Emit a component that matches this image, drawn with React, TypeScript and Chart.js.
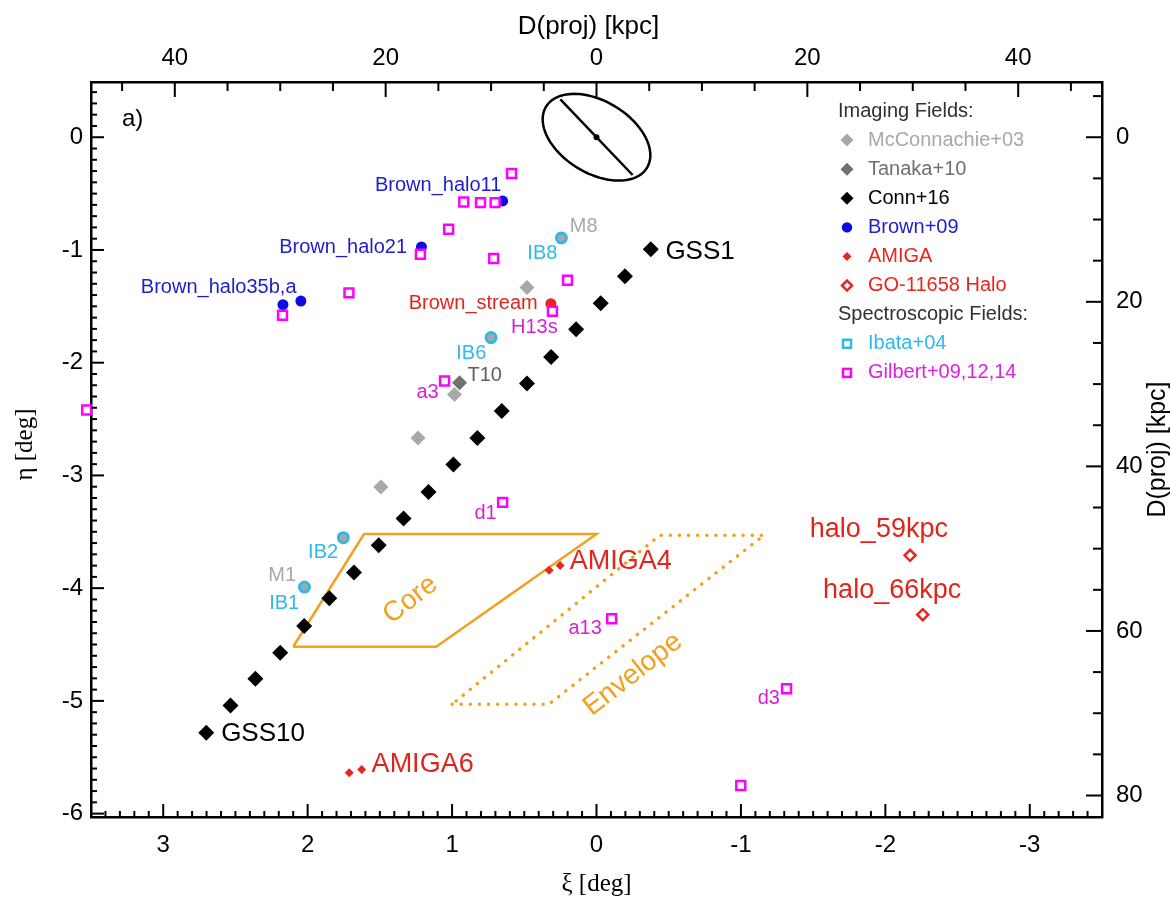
import React, { useEffect, useRef } from 'react';
import { Chart, registerables } from 'chart.js';

Chart.register(...registerables);

// ---------- scale constants ----------
const KPC_PER_DEG = 13.7;
const XI_MIN = -3.5;
const XI_MAX = 3.5;
const ETA_MIN = -6.03;
const ETA_MAX = 0.49;

// ---------- tick labels ----------
const xiTicks = [3, 2, 1, 0, -1, -2, -3];
const etaTicks = [0, -1, -2, -3, -4, -5, -6];
const kpcTopTicks = [-40, -20, 0, 20, 40];
const kpcRightTicks = [0, 20, 40, 60, 80];

// ---------- Imaging fields ----------
const mcconnachieXi = [0.481, 0.983, 1.236, 1.493];
const mcconnachieEta = [-1.334, -2.283, -2.668, -3.103];

const tanakaXi = [0.948];
const tanakaEta = [-2.177];

const connXi = [-0.376, -0.197, -0.029, 0.141, 0.314, 0.481, 0.656, 0.825, 0.991, 1.163, 1.336, 1.508, 1.679, 1.85, 2.024, 2.19, 2.362, 2.534, 2.702];
const connEta = [-0.994, -1.233, -1.473, -1.704, -1.949, -2.185, -2.429, -2.668, -2.904, -3.147, -3.383, -3.62, -3.86, -4.09, -4.336, -4.572, -4.803, -5.04, -5.282];

const brownXi = [0.65, 1.212, 2.171, 2.047];
const brownEta = [-0.565, -0.973, -1.485, -1.453];

const brownStreamXi = [0.316];
const brownStreamEta = [-1.476];

const amigaXi = [0.328, 0.252, 1.712, 1.626];
const amigaEta = [-3.842, -3.798, -5.637, -5.608];

const goHaloXi = [-2.171, -2.259];
const goHaloEta = [-3.709, -4.235];

// ---------- Spectroscopic fields ----------
const ibataXi = [0.243, 0.73, 1.753, 2.022];
const ibataEta = [-0.893, -1.777, -3.552, -3.99];

const gilbertXi = [0.588, 0.919, 0.803, 0.702, 1.024, 1.219, 0.712, 0.201, 0.305, 1.714, 2.174, 1.052, 0.65, -0.105, -1.316, -0.999, 3.53];
const gilbertEta = [-0.322, -0.574, -0.58, -0.58, -0.816, -1.038, -1.076, -1.269, -1.544, -1.381, -1.579, -2.162, -3.239, -4.271, -4.892, -5.75, -2.42];

// ---------- regions ----------
const coreXi = [2.1, 1.61, 0.0, 1.11, 2.1];
const coreEta = [-4.52, -3.52, -3.52, -4.52, -4.52];
const envelopeXi = [1.0, 0.33, -1.16, -0.44, 1.0];
const envelopeEta = [-5.03, -5.03, -3.53, -3.53, -5.03];

// disk ellipse (deg): centre, half-axis vectors, line half-vector
const diskCenter = [0, 0];
const diskMajor = [-0.35, -0.27];
const diskMinor = [0.128, -0.274];
const diskLine = [-0.25, -0.335];

// ---------- annotations ----------
const labelTexts = ['Brown_halo11', 'Brown_halo21', 'Brown_halo35b,a', 'Brown_stream', 'H13s', 'M8', 'IB8', 'IB6', 'T10', 'a3', 'd1', 'IB2', 'M1', 'IB1', 'GSS1', 'GSS10', 'AMIGA4', 'AMIGA6', 'halo_59kpc', 'halo_66kpc', 'a13', 'd3'];
const labelXi = [1.534, 2.197, 3.155, 1.3, 0.592, 0.185, 0.479, 0.971, 0.893, 1.247, 0.845, 1.997, 2.272, 2.266, -0.477, 2.599, 0.185, 1.557, -1.477, -1.569, 0.194, -1.116];
const labelEta = [-0.426, -0.98, -1.331, -1.473, -1.686, -0.79, -1.029, -1.919, -2.112, -2.26, -3.334, -3.68, -3.886, -4.138, -1.018, -5.291, -3.76, -5.563, -3.481, -4.02, -4.359, -4.981];
const labelColors = ['#1c1cd0', '#1c1cd0', '#1c1cd0', '#e0261c', '#d820d8', '#a8a8a8', '#30b8e8', '#30b8e8', '#606060', '#d820d8', '#d820d8', '#30b8e8', '#a8a8a8', '#30b8e8', '#000000', '#000000', '#e0261c', '#e0261c', '#e0261c', '#e0261c', '#d820d8', '#d820d8'];
const labelSizes = [20, 20, 20, 20, 20, 20, 20, 20, 20, 20, 20, 20, 20, 20, 26, 26, 27, 27, 27, 27, 20, 20];

const regionTexts = ['Core', 'Envelope'];
const regionXi = [1.288, -0.252];
const regionEta = [-4.102, -4.765];

const legendImaging = ['McConnachie+03', 'Tanaka+10', 'Conn+16', 'Brown+09', 'AMIGA', 'GO-11658 Halo'];
const legendSpectro = ['Ibata+04', 'Gilbert+09,12,14'];

const SANS = '"Liberation Sans", Arial, Helvetica, sans-serif';
const SERIF = '"Liberation Serif", "Times New Roman", serif';

const C_LGREY = '#a8a8a8';
const C_DGREY = '#707070';
const C_BLUE = '#0c0ce0';
const C_RED = '#e8261c';
const C_CYAN = '#30b8e8';
const C_MAG = '#ff00ff';
const C_ORANGE = '#f2a01e';

const pts = (xs: number[], ys: number[]) => xs.map((x, i) => ({ x, y: ys[i] }));

function drawText(ctx: CanvasRenderingContext2D, text: string, x: number, y: number, color: string, size: number, align: CanvasTextAlign = 'left', rotate = 0, family = SANS) {
  ctx.save();
  ctx.font = `${size}px ${family}`;
  ctx.fillStyle = color;
  ctx.textAlign = align;
  ctx.textBaseline = 'middle';
  ctx.translate(x, y);
  if (rotate) ctx.rotate(rotate);
  ctx.fillText(text, 0, 0);
  ctx.restore();
}

function diamond(ctx: CanvasRenderingContext2D, x: number, y: number, r: number, fill: string | null, stroke: string | null, lw = 2) {
  ctx.beginPath();
  ctx.moveTo(x, y - r);
  ctx.lineTo(x + r, y);
  ctx.lineTo(x, y + r);
  ctx.lineTo(x - r, y);
  ctx.closePath();
  if (fill) { ctx.fillStyle = fill; ctx.fill(); }
  if (stroke) { ctx.strokeStyle = stroke; ctx.lineWidth = lw; ctx.stroke(); }
}

const overlayPlugin = {
  id: 'overlay',
  afterDatasetsDraw(chart: any) {
    const { ctx, scales } = chart;
    const sx = scales.x;
    const sy = scales.y;
    const px = (v: number) => sx.getPixelForValue(v);
    const py = (v: number) => sy.getPixelForValue(v);
    // disk ellipse
    ctx.save();
    ctx.strokeStyle = '#000';
    ctx.lineWidth = 2.5;
    ctx.beginPath();
    for (let i = 0; i <= 120; i++) {
      const t = (i / 120) * Math.PI * 2;
      const xi = diskCenter[0] + Math.cos(t) * diskMajor[0] + Math.sin(t) * diskMinor[0];
      const eta = diskCenter[1] + Math.cos(t) * diskMajor[1] + Math.sin(t) * diskMinor[1];
      if (i === 0) ctx.moveTo(px(xi), py(eta));
      else ctx.lineTo(px(xi), py(eta));
    }
    ctx.closePath();
    ctx.stroke();
    ctx.beginPath();
    ctx.moveTo(px(diskCenter[0] - diskLine[0]), py(diskCenter[1] - diskLine[1]));
    ctx.lineTo(px(diskCenter[0] + diskLine[0]), py(diskCenter[1] + diskLine[1]));
    ctx.stroke();
    ctx.beginPath();
    ctx.arc(px(diskCenter[0]), py(diskCenter[1]), 3, 0, Math.PI * 2);
    ctx.fillStyle = '#000';
    ctx.fill();
    ctx.restore();
  },
  afterDraw(chart: any) {
    const { ctx, chartArea: ca, scales } = chart;
    const sx = scales.x;
    const sy = scales.y;
    const px = (v: number) => sx.getPixelForValue(v);
    const py = (v: number) => sy.getPixelForValue(v);

    // inward tick marks
    ctx.save();
    ctx.strokeStyle = '#000';
    ctx.lineWidth = 2;
    const ticks = (scale: any, step: number, majorStep: number, majLen: number, minLen: number, side: string) => {
      const lo = Math.min(scale.min, scale.max);
      const hi = Math.max(scale.min, scale.max);
      const n0 = Math.ceil(lo / step - 1e-9);
      const n1 = Math.floor(hi / step + 1e-9);
      const ratio = Math.round(majorStep / step);
      for (let n = n0; n <= n1; n++) {
        const p = scale.getPixelForValue(n * step);
        const len = n % ratio === 0 ? majLen : minLen;
        ctx.beginPath();
        if (side === 'bottom') { ctx.moveTo(p, ca.bottom); ctx.lineTo(p, ca.bottom - len); }
        if (side === 'top') { ctx.moveTo(p, ca.top); ctx.lineTo(p, ca.top + len); }
        if (side === 'left') { ctx.moveTo(ca.left, p); ctx.lineTo(ca.left + len, p); }
        if (side === 'right') { ctx.moveTo(ca.right, p); ctx.lineTo(ca.right - len, p); }
        ctx.stroke();
      }
    };
    ticks(scales.x, 0.1, 1, 13, 6, 'bottom');
    ticks(scales.y, 0.1, 1, 13, 6, 'left');
    ticks(scales.x2, 5, 20, 15, 9, 'top');
    ticks(scales.y2, 5, 20, 16, 9, 'right');
    ctx.restore();

    // point labels
    labelTexts.forEach((t, i) => {
      drawText(ctx, t, px(labelXi[i]), py(labelEta[i]), labelColors[i], labelSizes[i]);
    });
    regionTexts.forEach((t, i) => {
      drawText(ctx, t, px(regionXi[i]), py(regionEta[i]), C_ORANGE, 28, 'center', -38 * Math.PI / 180);
    });
    drawText(ctx, 'a)', ca.left + 31, ca.top + 37, '#000', 24);

    // legend
    const lx = ca.right - 264;
    const sxl = ca.right - 255;
    const tx = ca.right - 234;
    const rowH = 29.1;
    let y = ca.top + 29;
    drawText(ctx, 'Imaging Fields:', lx, y, '#303030', 20);
    const imgColors = [C_LGREY, C_DGREY, '#000', '#2020d0', C_RED, C_RED];
    legendImaging.forEach((name, i) => {
      y += rowH;
      ctx.save();
      if (i === 0) diamond(ctx, sxl, y, 6.5, C_LGREY, null);
      if (i === 1) diamond(ctx, sxl, y, 6.5, C_DGREY, null);
      if (i === 2) diamond(ctx, sxl, y, 6.5, '#000', null);
      if (i === 3) { ctx.beginPath(); ctx.arc(sxl, y, 5.2, 0, Math.PI * 2); ctx.fillStyle = C_BLUE; ctx.fill(); }
      if (i === 4) diamond(ctx, sxl, y, 4.5, C_RED, null);
      if (i === 5) diamond(ctx, sxl, y, 5, '#fff', C_RED, 2.5);
      ctx.restore();
      drawText(ctx, name, tx, y, imgColors[i], 20);
    });
    y += rowH;
    drawText(ctx, 'Spectroscopic Fields:', lx, y, '#303030', 20);
    const specColors = [C_CYAN, '#e020e0'];
    legendSpectro.forEach((name, i) => {
      y += rowH;
      ctx.save();
      ctx.strokeStyle = i === 0 ? C_CYAN : C_MAG;
      ctx.lineWidth = 2.5;
      ctx.strokeRect(sxl - 4, y - 4, 8, 8);
      ctx.restore();
      drawText(ctx, name, tx, y, specColors[i], 20);
    });

    // axis titles
    const cx = (ca.left + ca.right) / 2;
    const cy = (ca.top + ca.bottom) / 2;
    drawText(ctx, 'D(proj) [kpc]', cx - 8, 27, '#000', 26, 'center');
    drawText(ctx, 'ξ [deg]', cx, 884, '#000', 25, 'center', 0, SERIF);
    drawText(ctx, 'η [deg]', 25, cy - 5, '#000', 25, 'center', -Math.PI / 2, SERIF);
    drawText(ctx, 'D(proj) [kpc]', 1158, cy, '#000', 25, 'center', -Math.PI / 2);
  },
};

const tickFont = { family: SANS, size: 24 };
const border = { display: true, color: '#000', width: 2.5 };
const setTicks = (values: number[]) => (s: any) => { s.ticks = values.map((v) => ({ value: v })); };

export default function App() {
  const ref = useRef<HTMLCanvasElement>(null);
  useEffect(() => {
    if (!ref.current) return;
    const chart = new Chart(ref.current, {
      type: 'scatter',
      data: {
        datasets: [
          { label: 'Gilbert+09,12,14', data: pts(gilbertXi, gilbertEta), pointStyle: 'rect', pointRadius: 6.3, backgroundColor: '#fff', borderColor: C_MAG, borderWidth: 2.5, order: 1, clip: false },
          { label: 'Ibata+04', data: pts(ibataXi, ibataEta), pointStyle: 'circle', pointRadius: 5, backgroundColor: C_LGREY, borderColor: C_CYAN, borderWidth: 3, order: 2 },
          { label: 'Brown+09', data: pts(brownXi, brownEta), pointStyle: 'circle', pointRadius: 5.5, backgroundColor: C_BLUE, borderColor: C_BLUE, borderWidth: 0, order: 3 },
          { label: 'Brown stream', data: pts(brownStreamXi, brownStreamEta), pointStyle: 'circle', pointRadius: 5.5, backgroundColor: C_RED, borderColor: C_RED, borderWidth: 0, order: 3 },
          { label: 'AMIGA', data: pts(amigaXi, amigaEta), pointStyle: 'rectRot', pointRadius: 4.5, backgroundColor: C_RED, borderColor: C_RED, borderWidth: 0, order: 4 },
          { label: 'GO-11658 Halo', data: pts(goHaloXi, goHaloEta), pointStyle: 'rectRot', pointRadius: 5.5, backgroundColor: '#fff', borderColor: C_RED, borderWidth: 2.5, order: 4 },
          { label: 'Tanaka+10', data: pts(tanakaXi, tanakaEta), pointStyle: 'rectRot', pointRadius: 7.5, backgroundColor: C_DGREY, borderColor: C_DGREY, borderWidth: 0, order: 5 },
          { label: 'McConnachie+03', data: pts(mcconnachieXi, mcconnachieEta), pointStyle: 'rectRot', pointRadius: 7.5, backgroundColor: C_LGREY, borderColor: C_LGREY, borderWidth: 0, order: 6 },
          { label: 'Conn+16', data: pts(connXi, connEta), pointStyle: 'rectRot', pointRadius: 8, backgroundColor: '#000', borderColor: '#000', borderWidth: 0, order: 7 },
          { label: 'Core', data: pts(coreXi, coreEta), showLine: true, pointRadius: 0, borderColor: C_ORANGE, borderWidth: 2.5, fill: false, order: 8 },
          { label: 'Envelope', data: pts(envelopeXi, envelopeEta), showLine: true, pointRadius: 0, borderColor: C_ORANGE, borderWidth: 3.5, borderDash: [0.1, 9], borderCapStyle: 'round', fill: false, order: 8 },
        ],
      },
      options: {
        responsive: false,
        animation: false,
        events: [],
        layout: { padding: 0 },
        plugins: { legend: { display: false }, tooltip: { enabled: false } },
        scales: {
          x: {
            type: 'linear', axis: 'x', position: 'bottom', min: XI_MIN, max: XI_MAX, reverse: true,
            grid: { display: false, drawTicks: false }, border,
            afterBuildTicks: setTicks(xiTicks),
            ticks: { autoSkip: false, maxRotation: 0, padding: 14, color: '#000', font: tickFont, callback: (v: any) => String(v) },
            afterFit: (s: any) => { s.height = 80; },
          },
          x2: {
            type: 'linear', axis: 'x', position: 'top', min: XI_MIN * KPC_PER_DEG, max: XI_MAX * KPC_PER_DEG, reverse: true,
            grid: { display: false, drawTicks: false }, border,
            afterBuildTicks: setTicks(kpcTopTicks),
            ticks: { autoSkip: false, maxRotation: 0, padding: 9, color: '#000', font: tickFont, callback: (v: any) => String(Math.abs(Number(v))) },
            afterFit: (s: any) => { s.height = 82; },
          },
          y: {
            type: 'linear', axis: 'y', position: 'left', min: ETA_MIN, max: ETA_MAX,
            grid: { display: false, drawTicks: false }, border,
            afterBuildTicks: setTicks(etaTicks),
            ticks: { autoSkip: false, padding: 8, color: '#000', font: tickFont, callback: (v: any) => String(v) },
            afterFit: (s: any) => { s.width = 91; },
          },
          y2: {
            type: 'linear', axis: 'y', position: 'right', min: -ETA_MAX * KPC_PER_DEG, max: -ETA_MIN * KPC_PER_DEG, reverse: true,
            grid: { display: false, drawTicks: false }, border,
            afterBuildTicks: setTicks(kpcRightTicks),
            ticks: { autoSkip: false, padding: 14, color: '#000', font: tickFont, callback: (v: any) => String(v) },
            afterFit: (s: any) => { s.width = 68; },
          },
        },
      },
      plugins: [overlayPlugin],
    } as any);
    return () => chart.destroy();
  }, []);
  return (
    <div style={{ position: 'fixed', left: 0, top: 0, width: 1170, height: 897, background: '#fff' }}>
      <canvas ref={ref} width={1170} height={897} style={{ display: 'block', width: 1170, height: 897 }} />
    </div>
  );
}
